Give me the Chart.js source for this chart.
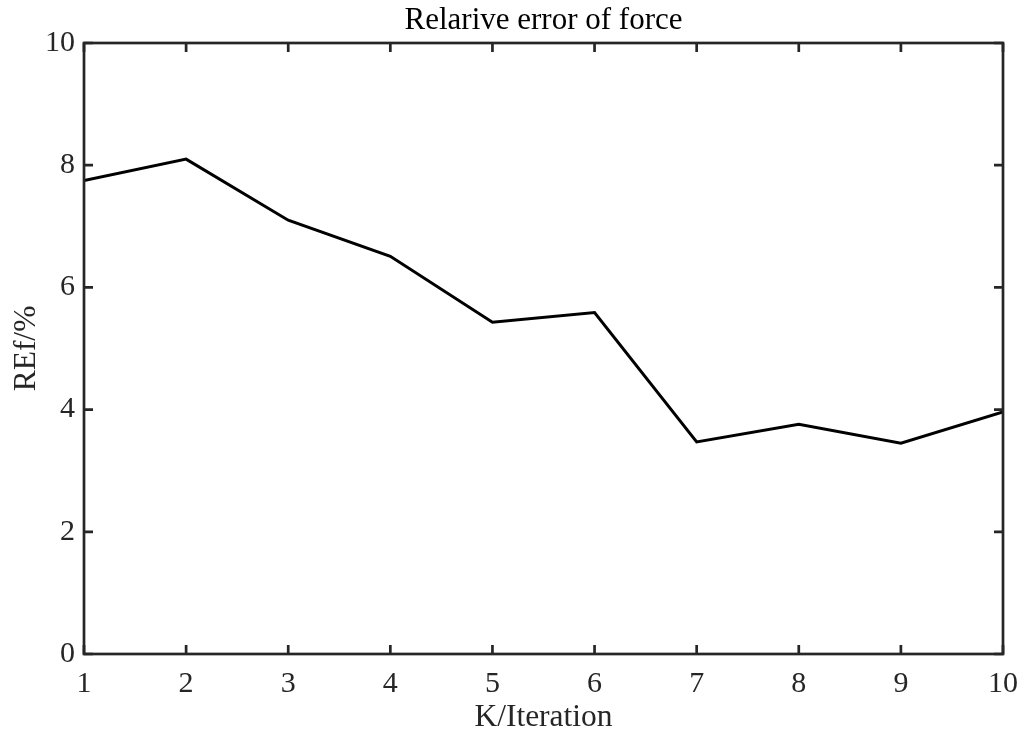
<!DOCTYPE html>
<html>
<head>
<meta charset="utf-8">
<script src="https://cdn.jsdelivr.net/npm/chart.js@4"></script>
<style>
  html, body { margin: 0; padding: 0; background: #fff; }
  #wrap { width: 1024px; height: 733px; }
</style>
</head>
<body>
<div id="wrap"><canvas id="errChart" width="1024" height="733"></canvas></div>
<script>
// data
const iterations = [1, 2, 3, 4, 5, 6, 7, 8, 9, 10];
const relError = [7.75, 8.1, 7.1, 6.51, 5.43, 5.59, 3.47, 3.76, 3.45, 3.96];
const xTicks = [1, 2, 3, 4, 5, 6, 7, 8, 9, 10];
const yTicks = [0, 2, 4, 6, 8, 10];
const titleText = 'Relarive error of force';

const axisColor = '#262626';
const font = 'Liberation Serif';

// MATLAB style box with inward ticks on all four sides, title centred over the axes
const boxPlugin = {
    id: 'box',
    afterDraw(chart) {
        const { ctx, chartArea: a, scales } = chart;
        const len = 9;
        ctx.save();
        ctx.strokeStyle = axisColor;
        ctx.lineWidth = 2.7;
        ctx.strokeRect(a.left, a.top, a.right - a.left, a.bottom - a.top);
        ctx.beginPath();
        xTicks.forEach(v => {
            const px = scales.x.getPixelForValue(v);
            ctx.moveTo(px, a.bottom); ctx.lineTo(px, a.bottom - len);
            ctx.moveTo(px, a.top); ctx.lineTo(px, a.top + len);
        });
        yTicks.forEach(v => {
            const py = scales.y.getPixelForValue(v);
            ctx.moveTo(a.left, py); ctx.lineTo(a.left + len, py);
            ctx.moveTo(a.right, py); ctx.lineTo(a.right - len, py);
        });
        ctx.stroke();

        ctx.fillStyle = '#000';
        ctx.font = '31px "' + font + '"';
        ctx.textAlign = 'center';
        ctx.textBaseline = 'middle';
        ctx.fillText(titleText, (a.left + a.right) / 2, 21);
        ctx.restore();
    }
};

new Chart(document.getElementById('errChart'), {
    type: 'line',
    data: {
        datasets: [{
            data: iterations.map((k, i) => ({ x: k, y: relError[i] })),
            borderColor: '#000',
            borderWidth: 3,
            pointRadius: 0,
            tension: 0,
            fill: false
        }]
    },
    options: {
        responsive: false,
        animation: false,
        layout: { padding: { left: 0, right: 21, top: 43, bottom: 0 } },
        plugins: {
            legend: { display: false },
            tooltip: { enabled: false },
            title: { display: false }
        },
        scales: {
            x: {
                type: 'linear',
                min: 1,
                max: 10,
                afterFit: s => { s.height = 79; },
                afterBuildTicks: s => { s.ticks = xTicks.map(v => ({ value: v })); },
                grid: { display: false },
                border: { display: false },
                ticks: {
                    color: axisColor,
                    padding: 4,
                    maxRotation: 0,
                    font: { family: font, size: 30 }
                },
                title: {
                    display: true,
                    text: 'K/Iteration',
                    color: axisColor,
                    padding: { top: 0, bottom: -4 },
                    font: { family: font, size: 31.5 }
                }
            },
            y: {
                type: 'linear',
                min: 0,
                max: 10,
                afterFit: s => { s.width = 84; },
                afterBuildTicks: s => { s.ticks = yTicks.map(v => ({ value: v })); },
                grid: { display: false },
                border: { display: false },
                ticks: {
                    color: axisColor,
                    padding: 1,
                    font: { family: font, size: 30 }
                },
                title: {
                    display: true,
                    text: 'REf/%',
                    color: axisColor,
                    padding: { top: 8, bottom: 0 },
                    font: { family: font, size: 31.5 }
                }
            }
        }
    },
    plugins: [boxPlugin]
});
</script>
</body>
</html>
